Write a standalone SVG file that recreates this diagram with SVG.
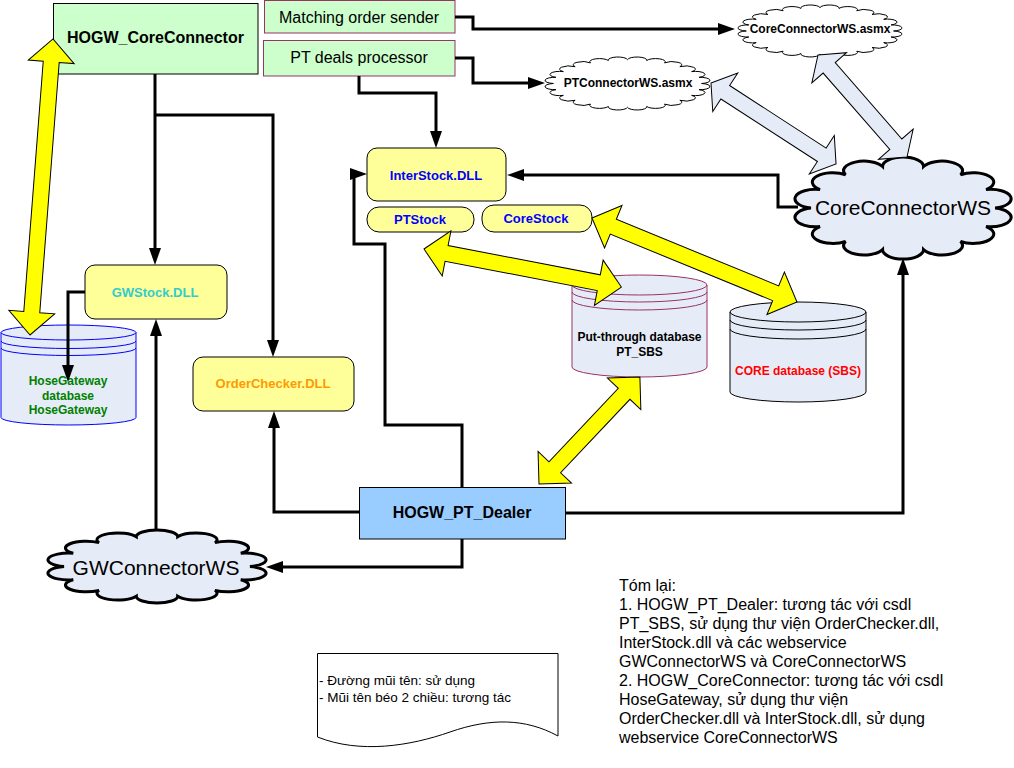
<svg xmlns="http://www.w3.org/2000/svg" width="1014" height="768" viewBox="0 0 1014 768">
<style>
text{font-family:"Liberation Sans",Arial,sans-serif;dominant-baseline:central;text-anchor:middle;fill:#000}
.b{font-weight:bold}
.f16{font-size:16px}
.f21{font-size:21px}
.f13{font-size:13px}
.f12{font-size:12px}
.c{fill:none;stroke:#000;stroke-width:3;marker-end:url(#ah)}
.y{fill:#FFFF00;stroke:#000;stroke-width:1}
.lb{fill:#E6ECF7;stroke:#000;stroke-width:1}
.dll{fill:#FFFF99;stroke:#000;stroke-width:1}
.grn{fill:#CCFFCC}
.cyl{fill:#E6ECF7;stroke-width:1}
.rim{fill:none;stroke-width:1}
.big{fill:#E6ECF7;stroke:#000;stroke-width:3}
.sml{fill:#FFFFFF;stroke:#000;stroke-width:1}
.sum{font-size:16px;text-anchor:start}
.note{font-size:13.5px;text-anchor:start}
</style>
<defs>
<marker id="ah" viewBox="0 0 17 12" refX="9" refY="6" markerWidth="17" markerHeight="12" markerUnits="userSpaceOnUse" orient="auto"><path d="M0,0 L17,6 L0,12 z" fill="#000"/></marker>
<path id="cloudL" vector-effect="non-scaling-stroke" d="M90,50 A1,1 0 0 1 86.04,67.36 A1,1 0 0 1 74.94,81.27 A1,1 0 0 1 58.9,89 A1,1 0 0 1 41.1,89 A1,1 0 0 1 25.06,81.27 A1,1 0 0 1 13.96,67.36 A1,1 0 0 1 10,50 A1,1 0 0 1 13.96,32.64 A1,1 0 0 1 25.06,18.73 A1,1 0 0 1 41.1,11 A1,1 0 0 1 58.9,11 A1,1 0 0 1 74.94,18.73 A1,1 0 0 1 86.04,32.64 A1,1 0 0 1 90,50 Z"/>
<path id="cloudS" vector-effect="non-scaling-stroke" d="M90,50 A1,1 0 0 1 88.64,60.35 A1,1 0 0 1 84.64,70 A1,1 0 0 1 78.28,78.28 A1,1 0 0 1 70,84.64 A1,1 0 0 1 60.35,88.64 A1,1 0 0 1 50,90 A1,1 0 0 1 39.65,88.64 A1,1 0 0 1 30,84.64 A1,1 0 0 1 21.72,78.28 A1,1 0 0 1 15.36,70 A1,1 0 0 1 11.36,60.35 A1,1 0 0 1 10,50 A1,1 0 0 1 11.36,39.65 A1,1 0 0 1 15.36,30 A1,1 0 0 1 21.72,21.72 A1,1 0 0 1 30,15.36 A1,1 0 0 1 39.65,11.36 A1,1 0 0 1 50,10 A1,1 0 0 1 60.35,11.36 A1,1 0 0 1 70,15.36 A1,1 0 0 1 78.28,21.72 A1,1 0 0 1 84.64,30 A1,1 0 0 1 88.64,39.65 A1,1 0 0 1 90,50 Z"/>
</defs>
<rect width="1014" height="768" fill="#FFFFFF"/>

<g id="hogw-coreconnector">
<rect class="grn" x="53.5" y="3.5" width="204.5" height="70.5" stroke="#000" stroke-width="1"/>
<text class="b f16" x="155.5" y="37">HOGW_CoreConnector</text>
</g>
<g id="matching-order-sender">
<rect class="grn" x="264.5" y="0.5" width="190.5" height="32.5" stroke="#993366" stroke-width="1"/>
<text class="f16" x="359" y="17">Matching order sender</text>
</g>
<g id="pt-deals-processor">
<rect class="grn" x="263.5" y="40.5" width="191.5" height="35.5" stroke="#993366" stroke-width="1"/>
<text class="f16" x="359" y="57">PT deals processor</text>
</g>
<g id="coreconnectorws-asmx">
<use href="#cloudS" class="sml" transform="translate(727.9,1.8) scale(1.841,0.5836)"/>
<text class="b f12" x="820" y="29">CoreConnectorWS.asmx</text>
</g>
<g id="ptconnectorws-asmx">
<use href="#cloudS" class="sml" transform="translate(534.9,53.75) scale(1.852,0.5948)"/>
<text class="b f12" x="628" y="83">PTConnectorWS.asmx</text>
</g>
<g id="interstock-dll">
<rect class="dll" x="367" y="148" width="139" height="53" rx="10"/>
<text class="b f13" x="436" y="175" fill="#0000FF" style="fill:#0000FF">InterStock.DLL</text>
</g>
<g id="ptstock">
<rect class="dll" x="367" y="207" width="107" height="25" rx="12"/>
<text class="b f13" x="420" y="219" style="fill:#0000FF">PTStock</text>
</g>
<g id="corestock">
<rect class="dll" x="482" y="205" width="110" height="27" rx="12"/>
<text class="b f13" x="536" y="218" style="fill:#0000FF">CoreStock</text>
</g>
<g id="gwstock-dll">
<rect class="dll" x="85" y="265" width="142" height="54" rx="10"/>
<text class="b f13" x="155" y="292" style="fill:#33CCCC">GWStock.DLL</text>
</g>
<g id="orderchecker-dll">
<rect class="dll" x="193" y="357" width="161" height="54" rx="10"/>
<text class="b f13" x="273" y="383" style="fill:#FF9900">OrderChecker.DLL</text>
</g>
<g id="hosegateway-db">
<path class="cyl" stroke="#0000FF" d="M1,332.5 A67.5,7.5 0 0 1 136,332.5 V417.5 A67.5,7.5 0 0 1 1,417.5 Z"/>
<path class="rim" stroke="#0000FF" d="M1,332.5 A67.5,7.5 0 0 0 136,332.5 M1,341 A67.5,7.5 0 0 0 136,341 M1,348 A67.5,7.5 0 0 0 136,348"/>
<text class="b f12" x="68" y="381" style="fill:#008000">HoseGateway</text>
<text class="b f12" x="68" y="396" style="fill:#008000">database</text>
<text class="b f12" x="68" y="410" style="fill:#008000">HoseGateway</text>
</g>
<g id="pt-sbs-db">
<path class="cyl" stroke="#993366" d="M572,285 A67.5,10 0 0 1 707,285 V367 A67.5,10 0 0 1 572,367 Z"/>
<path class="rim" stroke="#993366" d="M572,285 A67.5,10 0 0 0 707,285 M572,292 A67.5,10 0 0 0 707,292 M572,300 A67.5,10 0 0 0 707,300"/>
<text class="b f12" x="639.5" y="337">Put-through database</text>
<text class="b f12" x="639.5" y="352">PT_SBS</text>
</g>
<g id="core-db">
<path class="cyl" stroke="#000" d="M730,312 A68,10 0 0 1 866,312 V392 A68,10 0 0 1 730,392 Z"/>
<path class="rim" stroke="#000" d="M730,312 A68,10 0 0 0 866,312 M730,320 A68,10 0 0 0 866,320 M730,329 A68,10 0 0 0 866,329"/>
<text class="b f12" x="798" y="371" style="fill:#FF0000">CORE database (SBS)</text>
</g>
<g id="coreconnectorws">
<use href="#cloudL" class="big" transform="translate(787.9,154.8) scale(2.303,1.065)"/>
<text class="f21" x="903" y="207">CoreConnectorWS</text>
</g>
<g id="gwconnectorws">
<use href="#cloudL" class="big" transform="translate(40.8,528.4) scale(2.324,0.762)"/>
<text class="f21" x="156" y="567">GWConnectorWS</text>
</g>
<g id="hogw-pt-dealer">
<rect x="359.5" y="487.5" width="206" height="51.5" fill="#99CCFF" stroke="#000" stroke-width="1"/>
<text class="b f16" x="462" y="512">HOGW_PT_Dealer</text>
</g>
<g id="legend-note">
<path d="M317.5,653.5 H558 V736 C525,718 490,718 450,732 C410,746 360,754 317.5,737 Z" fill="#FFFFFF" stroke="#000" stroke-width="1"/>
<text class="note" x="319" y="680">- Đường mũi tên: sử dụng</text>
<text class="note" x="319" y="697">- Mũi tên béo 2 chiều: tương tác</text>
</g>
<g id="summary">
<text class="sum" x="619" y="585">Tóm lại:</text>
<text class="sum" x="619" y="604">1. HOGW_PT_Dealer: tương tác với csdl</text>
<text class="sum" x="619" y="623">PT_SBS, sử dụng thư viện OrderChecker.dll,</text>
<text class="sum" x="619" y="642">InterStock.dll và các webservice</text>
<text class="sum" x="619" y="661">GWConnectorWS và CoreConnectorWS</text>
<text class="sum" x="619" y="680">2. HOGW_CoreConnector: tương tác với csdl</text>
<text class="sum" x="619" y="699">HoseGateway, sử dụng thư viện</text>
<text class="sum" x="619" y="718">OrderChecker.dll và InterStock.dll, sử dụng</text>
<text class="sum" x="619" y="737">webservice CoreConnectorWS</text>
</g>

<g id="connectors">
<path class="c" d="M455,17 H473 V29 H727"/>
<path class="c" d="M455,58 H473 V83 H537"/>
<path class="c" d="M359,76 V93 H436 V140"/>
<path class="c" d="M155,74 V257"/>
<path class="c" d="M155,115 H273 V349"/>
<path class="c" d="M85,292 H68 V374"/>
<path class="c" d="M156,530 V327"/>
<path class="c" d="M359,512 H274 V419"/>
<path class="c" d="M462,539 V567 H274"/>
<path class="c" d="M462,487 V425 H385 V244 H354 V174 H359"/>
<path class="c" d="M566,513 H903 V266"/>
<path class="c" d="M798,207 H778 V175 H515"/>
<polygon class="lb" points="0,0 17,-23 17,-8 132,-8 132,-23 149,0 132,23 132,8 17,8 17,23" transform="translate(711,83) rotate(32.94)"/>
<polygon class="lb" points="0,0 17,-23 17,-8 118.4,-8 118.4,-23 135.4,0 118.4,23 118.4,8 17,8 17,23" transform="translate(818,55) rotate(48.9)"/>
<polygon class="y" points="0,0 23,-23 23,-8 274,-8 274,-23 297,0 274,23 274,8 23,8 23,23" transform="translate(30,335) rotate(-85.56)"/>
<polygon class="y" points="0,0 23,-23 23,-8 178,-8 178,-23 201,0 178,23 178,8 23,8 23,23" transform="translate(424,249) rotate(10.92)"/>
<polygon class="y" points="0,0 23,-23 23,-8 198.5,-8 198.5,-23 221.5,0 198.5,23 198.5,8 23,8 23,23" transform="translate(592,218) rotate(22.28)"/>
<polygon class="y" points="0,0 23,-23 23,-8 124,-8 124,-23 147,0 124,23 124,8 23,8 23,23" transform="translate(539,484) rotate(-46.65)"/>
</g>
</svg>
